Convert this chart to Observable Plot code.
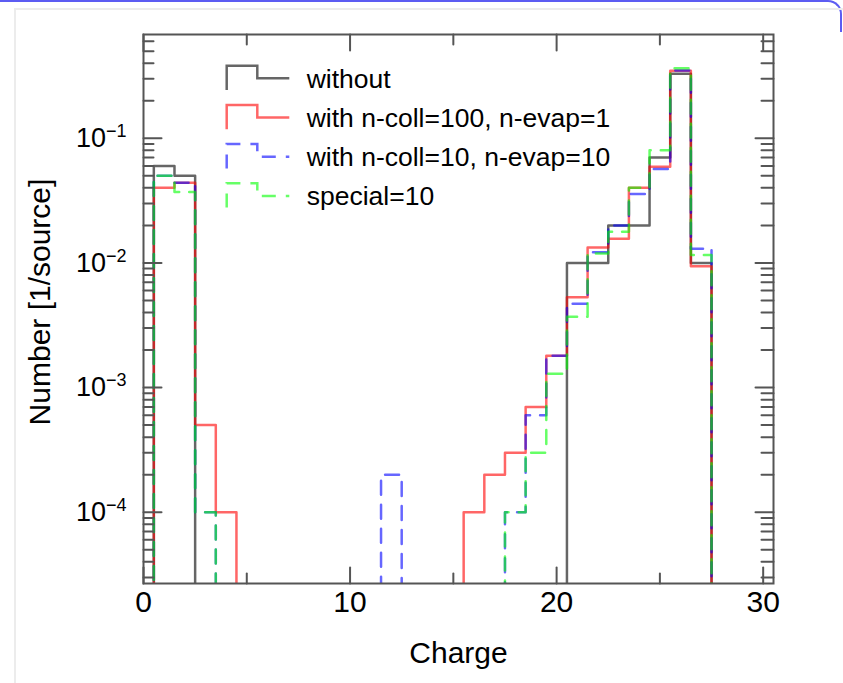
<!DOCTYPE html>
<html><head><meta charset="utf-8">
<script src="https://cdn.jsdelivr.net/npm/d3@7"></script>
<script src="https://cdn.jsdelivr.net/npm/@observablehq/plot@0.6"></script>
<style>
body{margin:0;background:#fff;font-family:"Liberation Sans",Arial,sans-serif;}
#wrap{position:relative;width:843px;height:683px;overflow:hidden;background:#fff;}
#topbar{position:absolute;left:-20px;top:0;width:860px;height:30px;border-top:2px solid #5c5cf2;border-right:2px solid #5c5cf2;border-top-right-radius:14px;}
#sheet{position:absolute;left:14px;top:8px;right:0;bottom:0;border-left:2px solid #ececec;border-top:2px solid #ececec;}
#chart{position:absolute;left:0;top:0;}
#legend{position:absolute;left:0;top:0;}
</style></head>
<body><div id="wrap"><div id="topbar"></div><div id="sheet"></div><div id="chart"></div><svg id="legend" width="843" height="683"></svg></div>
<script>
// ---- data (bins of width 1 centred on integer charge) ----
const charge = [1,2,3,4,5,6,7,8,9,10,11,12,13,14,15,16,17,18,19,20,21,22,23,24,25,26,27];
const without  = [0.06,0.05,0,0,0,0,0,0,0,0,0,0,0,0,0,0,0,0,0,0,0.01,0.01,0.02,0.02,0.07,0.33,0.01];
const coll100  = [0.04,0.044,5e-4,1e-4,0,0,0,0,0,0,0,0,0,0,0,1e-4,2e-4,3e-4,7e-4,1.8e-3,5.3e-3,0.0133,0.0156,0.04,0.059,0.348,0.0094];
const coll10   = [0.05,0.044,1e-4,0,0,0,0,0,0,0,0,2e-4,0,0,0,0,0,1e-4,6e-4,1.8e-3,4.7e-3,0.0122,0.02,0.0357,0.0567,0.35,0.013];
const special  = [0.05,0.037,1e-4,0,0,0,0,0,0,0,0,0,0,0,0,0,0,1e-4,3e-4,1.29e-3,3.7e-3,0.0119,0.0178,0.04,0.08,0.365,0.0116];
const seriesNames = ["without","with n-coll=100, n-evap=1","with n-coll=10, n-evap=10","special=10"];
const seriesColors = ["#000000","#ff0000","#0000ff","#00ff00"];
const seriesDash = [null,null,"14,10","14,10"];
const xTickLabels = [0,10,20,30];
const xMidTicks = [5,15,25];
const yTickLabels = [1e-1,1e-2,1e-3,1e-4];
const xLabel = "Charge";
const yLabel = "Number [1/source]";

const seriesValues = [without, coll100, coll10, special];
const yDomain = [2.68e-5, 0.68];
const FLOOR = 1e-9; // empty bins drop below the frame (clipped)

function stepPoints(vals) {
  const pts = [{x: charge[0] - 1.5, v: FLOOR}];
  charge.forEach((c, i) => pts.push({x: c - 0.5, v: vals[i] > 0 ? vals[i] : FLOOR}));
  const last = charge[charge.length - 1];
  pts.push({x: last + 0.5, v: FLOOR});
  pts.push({x: last + 1.5, v: FLOOR});
  return pts;
}

const yMinor = d3.scaleLog().domain(yDomain).ticks().filter(t => !yTickLabels.some(m => Math.abs(m - t) / m < 1e-6));

const tickShape = {draw(ctx, l) { ctx.moveTo(0, 0); ctx.lineTo(0, -l); }};
const tk = {stroke: "#555", strokeWidth: 2, anchor: "start", shape: tickShape};

const marks = [];
seriesValues.forEach((vals, k) => {
  marks.push(Plot.line(stepPoints(vals), {
    x: "x", y: "v", curve: "step-after",
    stroke: seriesColors[k], strokeOpacity: 0.6, strokeWidth: 2.5,
    strokeDasharray: seriesDash[k], clip: true
  }));
});
// inward ticks on all four sides
marks.push(
  Plot.vector(xTickLabels, {x: d => d, frameAnchor: "bottom", length: 16, rotate: 0, ...tk}),
  Plot.vector(xMidTicks, {x: d => d, frameAnchor: "bottom", length: 10, rotate: 0, ...tk}),
  Plot.vector(xTickLabels, {x: d => d, frameAnchor: "top", length: 16, rotate: 180, ...tk}),
  Plot.vector(xMidTicks, {x: d => d, frameAnchor: "top", length: 10, rotate: 180, ...tk}),
  Plot.vector(yTickLabels, {y: d => d, frameAnchor: "left", length: 18, rotate: 90, ...tk}),
  Plot.vector(yMinor, {y: d => d, frameAnchor: "left", length: 10, rotate: 90, ...tk}),
  Plot.vector(yTickLabels, {y: d => d, frameAnchor: "right", length: 18, rotate: -90, ...tk}),
  Plot.vector(yMinor, {y: d => d, frameAnchor: "right", length: 12, rotate: -90, ...tk}),
  Plot.frame({stroke: "#555", strokeWidth: 2}),
  Plot.axisX({ticks: xTickLabels, tickSize: 0, tickPadding: 7, fontSize: 30, label: null}),
  Plot.axisY({ticks: yTickLabels, tickSize: 0, tickPadding: 17, fontSize: 27, label: null,
              tickFormat: d => "10^" + Math.round(Math.log10(d))}),
  Plot.text([xLabel], {text: d => d, frameAnchor: "bottom", lineAnchor: "middle", dy: 70, fontSize: 30, fill: "#000"}),
  Plot.text([yLabel], {text: d => d, frameAnchor: "left", textAnchor: "middle", lineAnchor: "middle", dx: -103, dy: -7, rotate: -90, fontSize: 30, fill: "#000"})
);

const chart = Plot.plot({
  width: 843, height: 683,
  marginLeft: 143, marginRight: 70, marginTop: 34, marginBottom: 100,
  style: {background: "transparent", fontFamily: "Liberation Sans, Arial, sans-serif", color: "#000"},
  x: {domain: [0, 30.5], axis: null},
  y: {type: "log", domain: yDomain, axis: null},
  marks
});
document.getElementById("chart").appendChild(chart);

// superscript exponents on y tick labels
chart.querySelectorAll('g[aria-label="y-axis tick label"] text').forEach(t => {
  const s = t.textContent;
  if (!s.startsWith("10^")) return;
  const exp = s.slice(3).replace("-", "\u2212");
  t.textContent = "";
  const ns = "http://www.w3.org/2000/svg";
  const a = document.createElementNS(ns, "tspan"); a.textContent = "10";
  const b = document.createElementNS(ns, "tspan"); b.textContent = exp;
  b.setAttribute("dy", "-10"); b.setAttribute("font-size", "18");
  t.appendChild(a); t.appendChild(b);
});

// legend overlay
const lg = d3.select("#legend");
seriesNames.forEach((name, i) => {
  const top = 65.7 + 39.2 * i, mid = top + 12.6, bot = top + 24.3;
  lg.append("path")
    .attr("d", `M226.7,${bot}V${top}H257.3V${mid}H289.3`)
    .attr("fill", "none").attr("stroke", seriesColors[i]).attr("stroke-opacity", 0.6)
    .attr("stroke-width", 2.5).attr("stroke-dasharray", seriesDash[i]);
  lg.append("text").attr("x", 306.7).attr("y", mid + 9.5)
    .attr("font-size", 26.5).attr("font-family", "Liberation Sans, Arial, sans-serif")
    .text(name);
});
</script></body></html>
